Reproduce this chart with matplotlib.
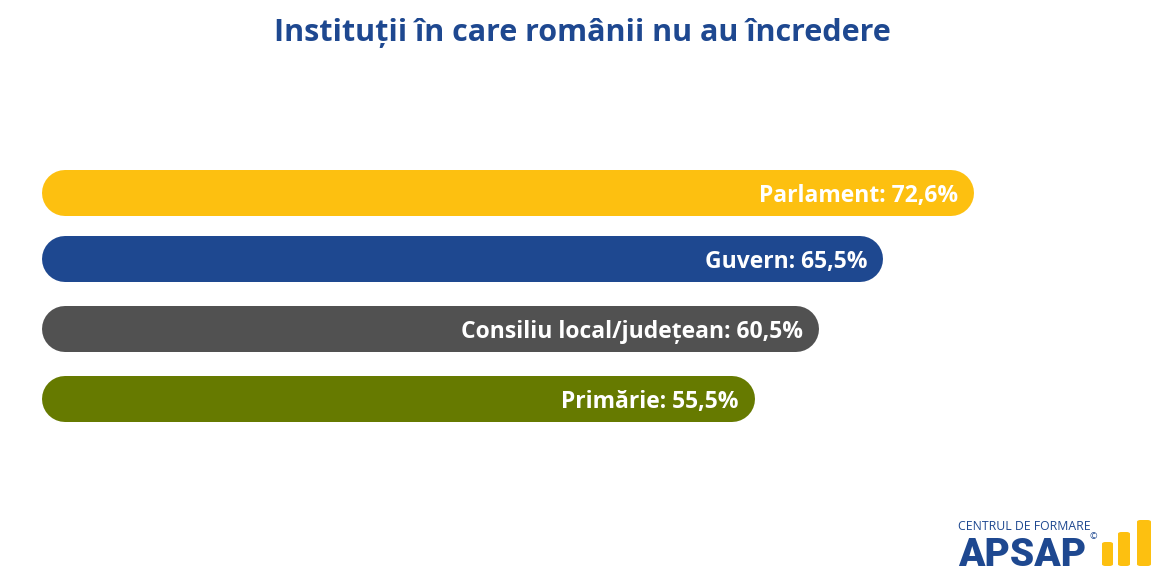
import matplotlib
matplotlib.use("Agg")
from matplotlib import pyplot as plt
from matplotlib.patches import FancyBboxPatch

# Data
institutions = ["Parlament", "Guvern", "Consiliu local/județean", "Primărie"]
shares = [72.6, 65.5, 60.5, 55.5]
bar_colors = ["#FDC010", "#1E4890", "#515151", "#667A00"]
title = "Instituții în care românii nu au încredere"

W, H, DPI = 1167, 580, 100
PX_PER_PCT = 12.84      # horizontal scale, pixels per percent
X0 = 42                 # pixel position of 0 %
BAR_H = 46              # bar thickness in pixels
ROW_Y = [193, 259, 329, 399]
FONT = "Open Sans"
NAVY = "#1E4890"
GOLD = "#FDC010"

fig = plt.figure(figsize=(W / DPI, H / DPI), dpi=DPI)
ax = fig.add_axes([0, 0, 1, 1])
ax.set_xlim(-X0 / PX_PER_PCT, (W - X0) / PX_PER_PCT)
ax.set_ylim(H, 0)
ax.axis("off")

# Rounded bars: a thick line with round caps, trimmed by the cap radius
r = BAR_H / 2 / PX_PER_PCT
lw = BAR_H * 72 / DPI
for name, val, col, y in zip(institutions, shares, bar_colors, ROW_Y):
    ax.plot([r, val - r], [y, y], color=col, linewidth=lw,
            solid_capstyle="round", zorder=2)
    label = f"{name}: {val:.1f}%".replace(".", ",")
    ax.text(val - 16 / PX_PER_PCT, y + 3, label, ha="right", va="center",
            color="white", fontsize=16.5, fontweight="bold",
            family=FONT, zorder=3)

fig.text(0.499, 1 - 33 / H, title, ha="center", va="center",
         color=NAVY, fontsize=22, fontweight="bold", family=FONT)

# Logo in the lower right corner
fig.text(958 / W, 1 - 529.5 / H, "CENTRUL DE FORMARE", ha="left",
         va="baseline", color=NAVY, fontsize=8.8, family=FONT)
fig.text(958 / W, 1 - 565.5 / H, "APSAP", ha="left", va="baseline",
         color=NAVY, fontsize=28, fontweight=900, family="Roboto")
fig.text(1093 / W, 1 - 537 / H, "©", ha="center", va="center",
         color=NAVY, fontsize=6.5, family=FONT)
for x, w, top in [(1102, 11, 542), (1118, 12, 532), (1137, 14, 520)]:
    fig.patches.append(FancyBboxPatch(
        (x / W, 1 - 566 / H), w / W, (566 - top) / H,
        boxstyle="round,pad=0,rounding_size=0.003",
        transform=fig.transFigure, facecolor=GOLD, edgecolor="none"))

fig.savefig("out.png", dpi=DPI, facecolor="white")
